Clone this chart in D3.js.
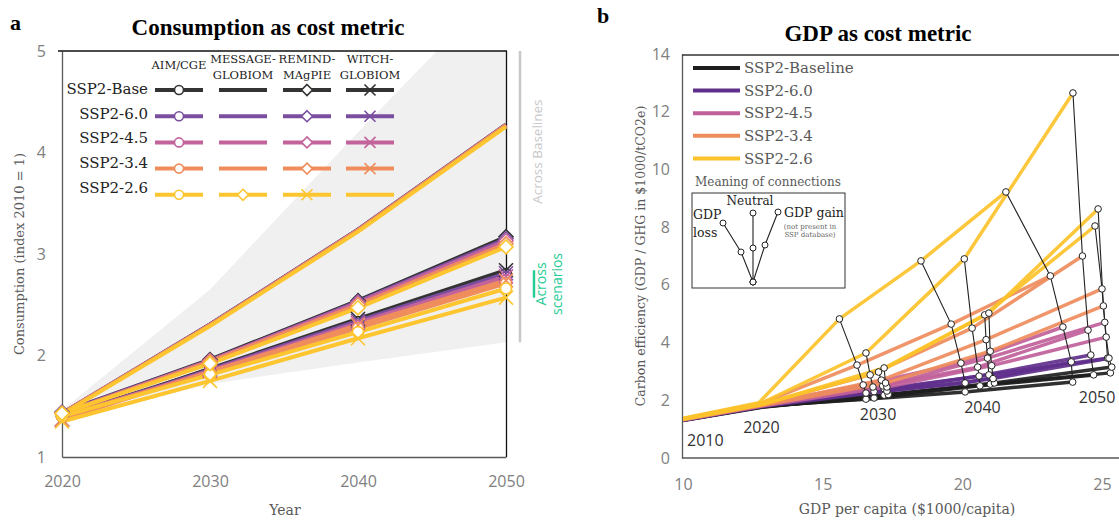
<!DOCTYPE html>
<html>
<head>
<meta charset="utf-8">
<script src="https://cdn.jsdelivr.net/npm/d3@7"></script>
<style>
  body { margin: 0; background: #fff; }
</style>
</head>
<body>
<svg id="chart" width="1119" height="521"></svg>
<script>
// ---------- panel a data ----------
const scenarios = ["SSP2-Base", "SSP2-6.0", "SSP2-4.5", "SSP2-3.4", "SSP2-2.6"];
const scenarioColors = ["#333333", "#7a4e9f", "#c3639c", "#ef8d5d", "#fdc530"];
const modelHeaders = [["AIM/CGE"], ["MESSAGE-", "GLOBIOM"], ["REMIND-", "MAgPIE"], ["WITCH-", "GLOBIOM"]];
const years = [2020, 2030, 2040, 2050];

// rows: Base, 6.0, 4.5, 3.4, 2.6 ; columns: years
const aimCge = [
  [1.40, 1.86, 2.33, 2.80],
  [1.40, 1.85, 2.31, 2.77],
  [1.40, 1.84, 2.29, 2.74],
  [1.40, 1.83, 2.27, 2.71],
  [1.40, 1.81, 2.23, 2.66]
];
const messageGlobiom = [
  [1.43, 2.305, 3.24, 4.275],
  [1.43, 2.305, 3.24, 4.275],
  [1.43, 2.30, 3.235, 4.27],
  [1.43, 2.30, 3.235, 4.27],
  [1.43, 1.92, 2.47, 3.07]
];
const remindMagpie = [
  [1.44, 1.96, 2.54, 3.17],
  [1.44, 1.95, 2.53, 3.15],
  [1.43, 1.95, 2.52, 3.13],
  [1.43, 1.94, 2.50, 3.10],
  [1.35, 1.75, 2.17, 2.57]
];
const witchGlobiom = [
  [1.37, 1.87, 2.36, 2.84],
  [1.37, 1.86, 2.34, 2.81],
  [1.37, 1.85, 2.32, 2.78],
  [1.37, 1.84, 2.30, 2.74],
  [1.42, 2.29, 3.22, 4.255]
];
// marker per scenario row / model column, as drawn in the original legend
const markerRows = [
  ["circle", "none", "diamond", "cross"],
  ["circle", "none", "diamond", "cross"],
  ["circle", "none", "diamond", "cross"],
  ["circle", "none", "diamond", "cross"],
  ["circle", "diamond", "cross", "none"]
];
const baselineLow = [1.35, 1.72, 1.93, 2.13];
const baselineHigh = [1.46, 2.65, 4.2, 5.7];
const yTicksA = [1, 2, 3, 4, 5];

// ---------- panel b data ----------
const scenarioLabelsB = ["SSP2-Baseline", "SSP2-6.0", "SSP2-4.5", "SSP2-3.4", "SSP2-2.6"];
const colorsB = ["#1e1e1e", "#5f2f8c", "#c0609a", "#ee8c5c", "#fcc22a"];
const decades = [2010, 2020, 2030, 2040, 2050];
const xTicksB = [10, 15, 20, 25];
const yTicksB = [0, 2, 4, 6, 8, 10, 12, 14];

// GDP per capita ($1000/capita), rows Base..2.6, columns decades
const gdpM1 = [
  [10.0, 12.78, 16.55, 20.10, 23.95],
  [10.0, 12.78, 16.55, 20.10, 23.90],
  [10.0, 12.77, 16.45, 19.95, 23.60],
  [10.0, 12.76, 16.23, 19.60, 23.15],
  [10.0, 12.72, 15.60, 18.52, 21.56]
];
const effM1 = [
  [1.33, 1.80, 2.04, 2.29, 2.63],
  [1.34, 1.84, 2.25, 2.60, 3.33],
  [1.35, 1.86, 2.53, 3.29, 4.54],
  [1.36, 1.88, 3.22, 4.64, 6.31],
  [1.38, 1.92, 4.82, 6.83, 9.22]
];
const gdpM2 = [
  [10.0, 12.80, 16.84, 20.63, 24.70],
  [10.0, 12.80, 16.84, 20.60, 24.60],
  [10.0, 12.79, 16.80, 20.55, 24.50],
  [10.0, 12.78, 16.70, 20.35, 24.30],
  [10.0, 12.76, 16.55, 20.07, 23.96]
];
const effM2 = [
  [1.32, 1.78, 2.08, 2.50, 2.88],
  [1.33, 1.81, 2.30, 2.84, 3.57],
  [1.34, 1.84, 2.46, 3.15, 4.43],
  [1.35, 1.86, 2.88, 4.50, 7.00],
  [1.36, 1.88, 3.64, 6.90, 12.65]
];
const gdpM3 = [
  [10.0, 12.82, 17.20, 21.00, 25.30],
  [10.0, 12.82, 17.20, 20.95, 25.20],
  [10.0, 12.81, 17.15, 20.90, 25.10],
  [10.0, 12.80, 17.10, 20.85, 25.00],
  [10.0, 12.79, 17.00, 20.80, 24.75]
];
const effM3 = [
  [1.31, 1.77, 2.18, 2.56, 2.95],
  [1.32, 1.79, 2.40, 2.88, 3.46],
  [1.33, 1.81, 2.50, 3.46, 4.70],
  [1.34, 1.83, 2.70, 4.10, 5.86],
  [1.35, 1.85, 2.98, 4.96, 8.04]
];
const gdpM4 = [
  [10.0, 12.83, 17.35, 21.15, 25.35],
  [10.0, 12.83, 17.30, 21.10, 25.25],
  [10.0, 12.82, 17.30, 21.05, 25.15],
  [10.0, 12.81, 17.25, 21.00, 25.05],
  [10.0, 12.80, 17.20, 20.95, 24.86]
];
const effM4 = [
  [1.30, 1.76, 2.20, 2.60, 3.15],
  [1.31, 1.78, 2.32, 2.75, 3.46],
  [1.32, 1.80, 2.46, 3.20, 4.19],
  [1.33, 1.82, 2.60, 3.70, 5.27],
  [1.34, 1.84, 3.12, 5.02, 8.63]
];

const serif = "'DejaVu Serif', serif";
const titleFont = "'Liberation Serif', serif";
const sans = "'Open Sans', sans-serif";

const svg = d3.select("#chart");

function markerPath(type, s) {
  if (type === "circle") return d3.symbol(d3.symbolCircle, Math.PI * s * s)();
  if (type === "diamond") return `M0,${-s}L${s},0L0,${s}L${-s},0Z`;
  if (type === "cross") return `M${-s},${-s}L${s},${s}M${-s},${s}L${s},${-s}`;
  return null;
}
function addMarker(g, type, x, y, color, s) {
  if (type === "none") return;
  g.append("path")
    .attr("d", markerPath(type, s))
    .attr("transform", `translate(${x},${y})`)
    .attr("fill", type === "cross" ? "none" : "#fff")
    .attr("stroke", color)
    .attr("stroke-width", 1.6);
}

// ================= panel a =================
const xA = d3.scaleLinear().domain([2020, 2050]).range([62, 506]);
const yA = d3.scaleLinear().domain([1, 5]).range([457, 51]);

svg.append("text").attr("x", 10).attr("y", 30).text("a")
  .style("font-family", titleFont).style("font-weight", "bold").style("font-size", "22px");
svg.append("text").attr("x", 268).attr("y", 35).attr("text-anchor", "middle")
  .text("Consumption as cost metric")
  .style("font-family", titleFont).style("font-weight", "bold").style("font-size", "23px");

svg.append("clipPath").attr("id", "clipA").append("rect")
  .attr("x", 62).attr("y", 51).attr("width", 444).attr("height", 406);

const gA = svg.append("g");

// band across baselines
const band = d3.area()
  .x((d, i) => xA(years[i]))
  .y0((d, i) => yA(baselineLow[i]))
  .y1((d, i) => yA(baselineHigh[i]));
gA.append("path").datum(years).attr("d", band)
  .attr("fill", "#f0f0f0").attr("clip-path", "url(#clipA)");

// axes
const axA = gA.append("g").attr("transform", "translate(62,0)")
  .call(d3.axisLeft(yA).tickValues(yTicksA).tickSize(0).tickPadding(16).tickFormat(d3.format("d")));
const axAx = gA.append("g").attr("transform", "translate(0,457)")
  .call(d3.axisBottom(xA).tickValues(years).tickSize(0).tickPadding(19).tickFormat(d3.format("d")));
[axA, axAx].forEach(a => {
  a.select(".domain").attr("stroke", "#595959").attr("stroke-width", 1.3);
  a.selectAll("text").style("font-family", sans).style("font-size", "16px").attr("fill", "#808080");
});
gA.append("line").attr("x1", 58).attr("x2", 507).attr("y1", 51).attr("y2", 51)
  .attr("stroke", "#111").attr("stroke-width", 1.3);
gA.append("line").attr("x1", 506.5).attr("x2", 506.5).attr("y1", 51).attr("y2", 457)
  .attr("stroke", "#111").attr("stroke-width", 1.3);

// series
const modelData = [aimCge, messageGlobiom, remindMagpie, witchGlobiom];
const lineA = d3.line().x((d, i) => xA(years[i])).y(d => yA(d));
const seriesA = [];
scenarios.forEach((sc, s) => {
  modelData.forEach((md, m) => {
    seriesA.push({ values: md[s], color: scenarioColors[s], marker: markerRows[s][m] });
  });
});
seriesA.forEach(d => {
  gA.append("path").datum(d.values).attr("d", lineA)
    .attr("fill", "none").attr("stroke", d.color).attr("stroke-width", 4)
    .attr("stroke-linejoin", "round");
});
seriesA.forEach(d => {
  d.values.forEach((v, i) => {
    const s = d.marker === "circle" ? 5.5 : 7;
    addMarker(gA, d.marker, xA(years[i]), yA(v), d.color, s);
  });
});

// legend
const legA = svg.append("g");
const colX = [179, 243, 307, 370];
modelHeaders.forEach((lines, m) => {
  lines.forEach((t, k) => {
    legA.append("text").attr("x", colX[m])
      .attr("y", lines.length === 1 ? 65 : 59 + k * 16).attr("dy", "0.35em")
      .attr("text-anchor", "middle").text(t)
      .style("font-family", serif).style("font-size", "11.5px").attr("fill", "#222");
  });
});
scenarios.forEach((sc, s) => {
  const ly = 90 + s * 26.2;
  legA.append("text").attr("x", 148).attr("y", 89 + s * 24.6).attr("dy", "0.35em")
    .attr("text-anchor", "end").text(sc)
    .style("font-family", serif).style("font-size", "15px").attr("fill", "#222");
  colX.forEach((cx, m) => {
    legA.append("line").attr("x1", cx - 24).attr("x2", cx + 24).attr("y1", ly).attr("y2", ly)
      .attr("stroke", scenarioColors[s]).attr("stroke-width", 4);
    addMarker(legA, markerRows[s][m], cx, ly, scenarioColors[s], markerRows[s][m] === "circle" ? 4.5 : 5.5);
  });
});

// range bars
const bandTop = Math.max(yA.range()[1], yA(baselineHigh[3]));
svg.append("line").attr("x1", 520).attr("x2", 520).attr("y1", bandTop).attr("y2", yA(baselineLow[3]))
  .attr("stroke", "#c8c8c8").attr("stroke-width", 2.5);
svg.append("text").attr("transform", `translate(537,${(bandTop + yA(baselineLow[3])) / 2 - 45}) rotate(-90)`)
  .attr("text-anchor", "middle").attr("dy", "0.35em").text("Across Baselines")
  .style("font-family", sans).style("font-size", "13.5px").attr("fill", "#c8c8c8");

const lowBundle = seriesA.filter(d => d.marker === "circle" || d.marker === "cross").map(d => d.values[3]);
const [lo, hi] = d3.extent(lowBundle);
svg.append("line").attr("x1", 534).attr("x2", 534).attr("y1", yA(hi)).attr("y2", yA(lo))
  .attr("stroke", "#28cc96").attr("stroke-width", 2.5);
const midS = (yA(hi) + yA(lo)) / 2;
["Across", "scenarios"].forEach((t, k) => {
  svg.append("text").attr("transform", `translate(${541 + k * 16},${midS}) rotate(-90)`)
    .attr("text-anchor", "middle").attr("dy", "0.35em").text(t)
    .style("font-family", sans).style("font-size", "14px").attr("fill", "#28cc96");
});

svg.append("text").attr("transform", "translate(19,254) rotate(-90)").attr("text-anchor", "middle")
  .attr("dy", "0.35em").text("Consumption (index 2010 = 1)")
  .style("font-family", serif).style("font-size", "13px").attr("fill", "#595959");
svg.append("text").attr("x", 285).attr("y", 510).attr("text-anchor", "middle").attr("dy", "0.35em")
  .text("Year").style("font-family", serif).style("font-size", "14px").attr("fill", "#595959");

// ================= panel b =================
const xB = d3.scaleLinear().domain([10, 25]).range([683, 1102]);
const yB = d3.scaleLinear().domain([0, 14]).range([458, 54]);

svg.append("text").attr("x", 597).attr("y", 23).text("b")
  .style("font-family", titleFont).style("font-weight", "bold").style("font-size", "22px");
svg.append("text").attr("x", 878).attr("y", 41).attr("text-anchor", "middle")
  .text("GDP as cost metric")
  .style("font-family", titleFont).style("font-weight", "bold").style("font-size", "23px");

const gB = svg.append("g");
const axB = gB.append("g").attr("transform", "translate(682,0)")
  .call(d3.axisLeft(yB).tickValues(yTicksB).tickSize(0).tickPadding(12).tickFormat(d3.format("d")));
const axBx = gB.append("g").attr("transform", "translate(0,458)")
  .call(d3.axisBottom(xB).tickValues(xTicksB).tickSize(0).tickPadding(21).tickFormat(d3.format("d")));
axBx.select(".domain").attr("d", "M682,0H1119");
[axB, axBx].forEach(a => {
  a.select(".domain").attr("stroke", "#595959").attr("stroke-width", 1.3);
  a.selectAll("text").style("font-family", sans).style("font-size", "16px").attr("fill", "#808080");
});
gB.append("line").attr("x1", 682).attr("x2", 1119).attr("y1", 55).attr("y2", 55)
  .attr("stroke", "#333").attr("stroke-width", 1.3);

svg.append("clipPath").attr("id", "clipB").append("rect")
  .attr("x", 683).attr("y", 55).attr("width", 436).attr("height", 402);

const modelsB = [[gdpM1, effM1], [gdpM2, effM2], [gdpM3, effM3], [gdpM4, effM4]];
const plotB = gB.append("g").attr("clip-path", "url(#clipB)");
const lineB = d3.line().x(d => xB(d[0])).y(d => yB(d[1]));

scenarioLabelsB.forEach((sc, s) => {
  modelsB.forEach(([gdp, eff]) => {
    const pts = decades.map((yr, i) => [gdp[s][i], eff[s][i]]);
    plotB.append("path").datum(pts).attr("d", lineB)
      .attr("fill", "none").attr("stroke", colorsB[s]).attr("stroke-width", 3.5)
      .attr("stroke-opacity", 0.92).attr("stroke-linejoin", "round");
  });
});
// connections between scenarios of one model in the same year
modelsB.forEach(([gdp, eff]) => {
  [2, 3, 4].forEach(i => {
    const pts = scenarioLabelsB.map((sc, s) => [gdp[s][i], eff[s][i]]);
    plotB.append("path").datum(pts).attr("d", lineB)
      .attr("fill", "none").attr("stroke", "#222").attr("stroke-width", 1.1);
  });
});
modelsB.forEach(([gdp, eff]) => {
  [2, 3, 4].forEach(i => {
    scenarioLabelsB.forEach((sc, s) => {
      plotB.append("circle").attr("cx", xB(gdp[s][i])).attr("cy", yB(eff[s][i])).attr("r", 3.3)
        .attr("fill", "#fff").attr("stroke", "#222").attr("stroke-width", 1);
    });
  });
});

// year labels under each cluster
decades.forEach((yr, i) => {
  const base = modelsB.map(([gdp, eff]) => [gdp[0][i], eff[0][i]]);
  const cx = xB(d3.mean(base, d => d[0]));
  const cy = yB(d3.min(base, d => d[1]));
  svg.append("text")
    .attr("x", i === 0 ? cx + 4 : cx).attr("y", cy + (i < 2 ? 20 : 15))
    .attr("dy", "0.35em").attr("text-anchor", i === 0 ? "start" : "middle").text(yr)
    .style("font-family", sans).style("font-size", "16px").attr("fill", "#333");
});

// legend
const legB = svg.append("g");
scenarioLabelsB.forEach((sc, s) => {
  const ly = 68 + s * 22.6;
  legB.append("line").attr("x1", 693).attr("x2", 740).attr("y1", ly).attr("y2", ly)
    .attr("stroke", colorsB[s]).attr("stroke-width", 4);
  legB.append("text").attr("x", 744).attr("y", ly).attr("dy", "0.35em").text(sc)
    .style("font-family", serif).style("font-size", "15px").attr("fill", "#595959");
});
legB.append("text").attr("x", 695).attr("y", 182).attr("dy", "0.35em").text("Meaning of connections")
  .style("font-family", serif).style("font-size", "12px").attr("fill", "#595959");

const inset = legB.append("g").attr("transform", "translate(692,193)");
inset.append("rect").attr("width", 153).attr("height", 95)
  .attr("fill", "#fff").attr("stroke", "#333").attr("stroke-width", 1);
const insetPaths = [
  [[31, 30], [49, 59], [61, 89]],
  [[61, 20], [61, 55], [61, 89]],
  [[86, 19], [73, 52], [61, 89]]
];
insetPaths.forEach(p => {
  inset.append("path").attr("d", d3.line()(p)).attr("fill", "none")
    .attr("stroke", "#222").attr("stroke-width", 1.1);
});
insetPaths.forEach(p => p.forEach(([x, y]) => {
  inset.append("circle").attr("cx", x).attr("cy", y).attr("r", 3)
    .attr("fill", "#fff").attr("stroke", "#222").attr("stroke-width", 1);
}));
const insetText = [
  ["GDP", 1, 22, "start", 12.5, "#222"],
  ["loss", 1, 40, "start", 12.5, "#222"],
  ["Neutral", 58, 8, "middle", 12, "#222"],
  ["GDP gain", 92, 20, "start", 12.5, "#222"],
  ["(not present  in", 118, 34, "middle", 7, "#666"],
  ["SSP database)", 118, 42, "middle", 7, "#666"]
];
insetText.forEach(([t, x, y, anchor, size, col]) => {
  inset.append("text").attr("x", x).attr("y", y).attr("dy", "0.35em").attr("text-anchor", anchor)
    .text(t).style("font-family", serif).style("font-size", size + "px").attr("fill", col);
});

svg.append("text").attr("transform", "translate(641,256) rotate(-90)").attr("text-anchor", "middle")
  .attr("dy", "0.35em").text("Carbon efficiency (GDP / GHG in $1000/tCO2e)")
  .style("font-family", serif).style("font-size", "12.5px").attr("fill", "#595959");
svg.append("text").attr("x", 907).attr("y", 509).attr("text-anchor", "middle").attr("dy", "0.35em")
  .text("GDP per capita ($1000/capita)")
  .style("font-family", serif).style("font-size", "14px").attr("fill", "#595959");
</script>
</body>
</html>
